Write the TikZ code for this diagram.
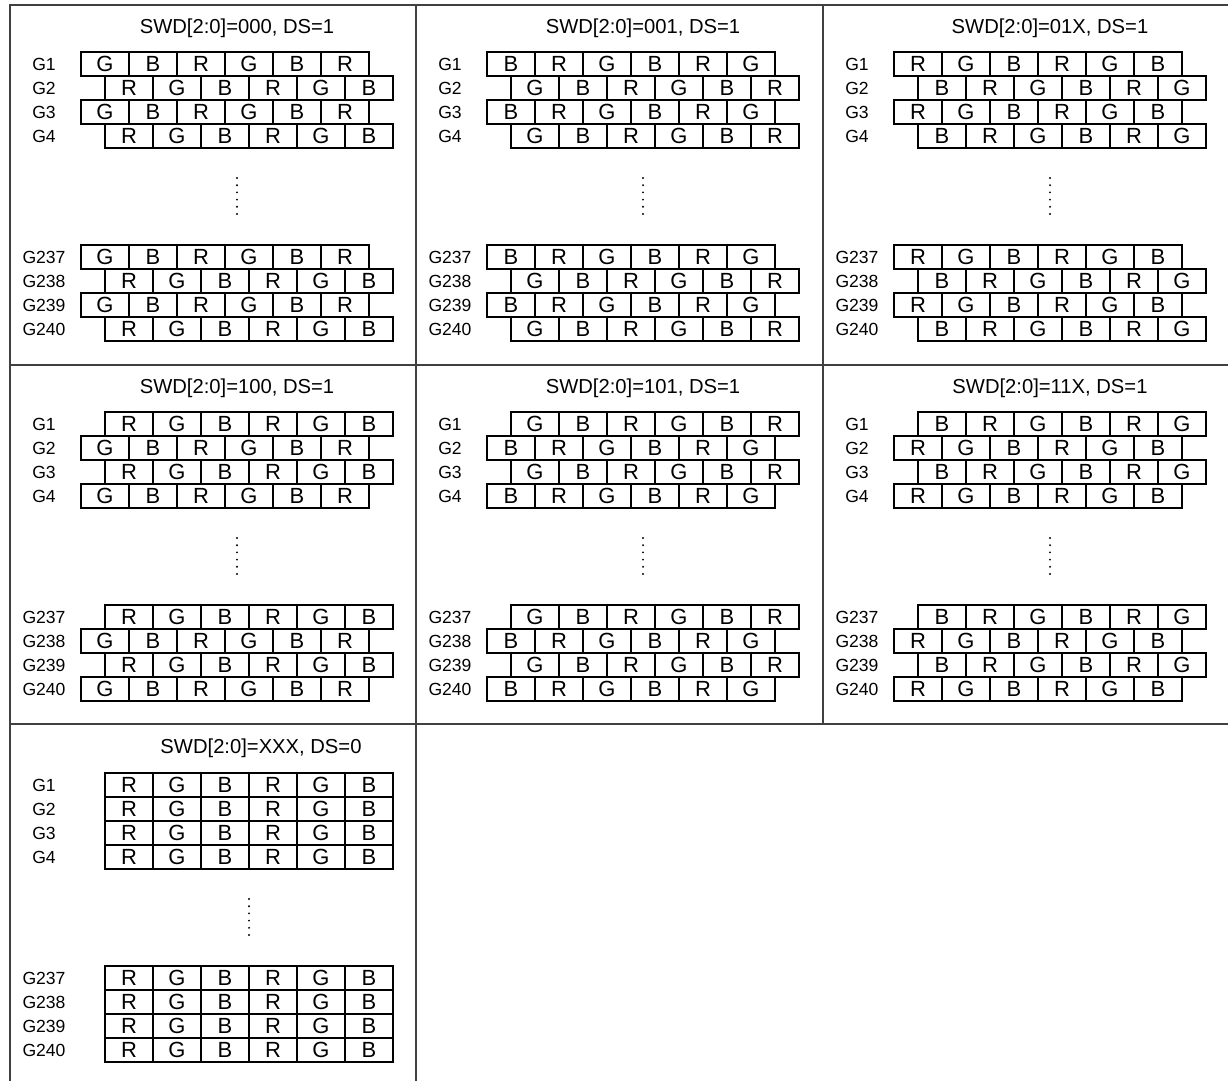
\documentclass[tikz,border=0pt]{standalone}
\usepackage{fontspec}
\setmainfont{Liberation Sans}

% one panel: rows G1-G4 and G237-G240
% #1,#2 corner of panel, #3 name, #4/#5 offset and colours of odd rows, #6/#7 of even rows
\newcommand{\swdgrid}[7]{%
  \foreach \blk/\dy/\gfirst in {a/47/1, b/240/237} {
    \foreach \row in {0,...,3} {
      \pgfmathtruncatemacro{\gnum}{\gfirst+\row}
      \node[glabel] (#3\blk\row) at ({#1+34}, {#2+\dy+24*\row+12}) {G\gnum};
      \ifodd\row\relax \def\off{#6}\def\seq{#7}\else \def\off{#4}\def\seq{#5}\fi
      \foreach \col [count=\j] in \seq
        \node[cell] (#3\blk\row-\j) at ({#1+71+\off+48*\j-24}, {#2+\dy+24*\row+12}) {\col};
    }
  }
  % dots
  \foreach \k in {0,...,5}
    \fill ({#1+215+(#4+#6)/2}, {#2+173+7.2*\k}) circle (0.6pt);
}

\begin{document}
\begin{tikzpicture}[x=0.02cm, y=-0.02cm,
    cell/.style={draw, line width=0.6pt, minimum width=0.96cm, minimum height=0.48cm,
      inner sep=0pt, font=\fontsize{12.5}{14}\selectfont},
    glabel/.style={inner sep=0pt, font=\fontsize{10}{12}\selectfont},
    title/.style={inner sep=0pt, font=\fontsize{11.5}{13}\selectfont},
    frame/.style={line width=1.1pt, black!75}]
    \useasboundingbox (0,0) rectangle (1228,1081);
    % Frame
    \draw[frame] (10,1081) -- (10,5) -- (1228,5);
    \draw[frame] (10,365) -- (1228,365);
    \draw[frame] (10,724) -- (1228,724);
    \draw[frame] (416,5) -- (416,1081);
    \draw[frame] (823,5) -- (823,724);
    % Titles
    \node[title] (t000) at (237,28) {SWD[2:0]=000, DS=1};
    \node[title] (t001) at (643,28) {SWD[2:0]=001, DS=1};
    \node[title] (t01x) at (1050,28) {SWD[2:0]=01X, DS=1};
    \node[title] (t100) at (237,388) {SWD[2:0]=100, DS=1};
    \node[title] (t101) at (643,388) {SWD[2:0]=101, DS=1};
    \node[title] (t11x) at (1050,388) {SWD[2:0]=11X, DS=1};
    \node[title] (txxx) at (261,748) {SWD[2:0]=XXX, DS=0};
    % Panels
    \swdgrid{10}{5}{p000}{0}{G,B,R,G,B,R}{24}{R,G,B,R,G,B}
    \swdgrid{416}{5}{p001}{0}{B,R,G,B,R,G}{24}{G,B,R,G,B,R}
    \swdgrid{823}{5}{p01x}{0}{R,G,B,R,G,B}{24}{B,R,G,B,R,G}
    \swdgrid{10}{365}{p100}{24}{R,G,B,R,G,B}{0}{G,B,R,G,B,R}
    \swdgrid{416}{365}{p101}{24}{G,B,R,G,B,R}{0}{B,R,G,B,R,G}
    \swdgrid{823}{365}{p11x}{24}{B,R,G,B,R,G}{0}{R,G,B,R,G,B}
    \swdgrid{10}{726}{pxxx}{24}{R,G,B,R,G,B}{24}{R,G,B,R,G,B}
\end{tikzpicture}
\end{document}
